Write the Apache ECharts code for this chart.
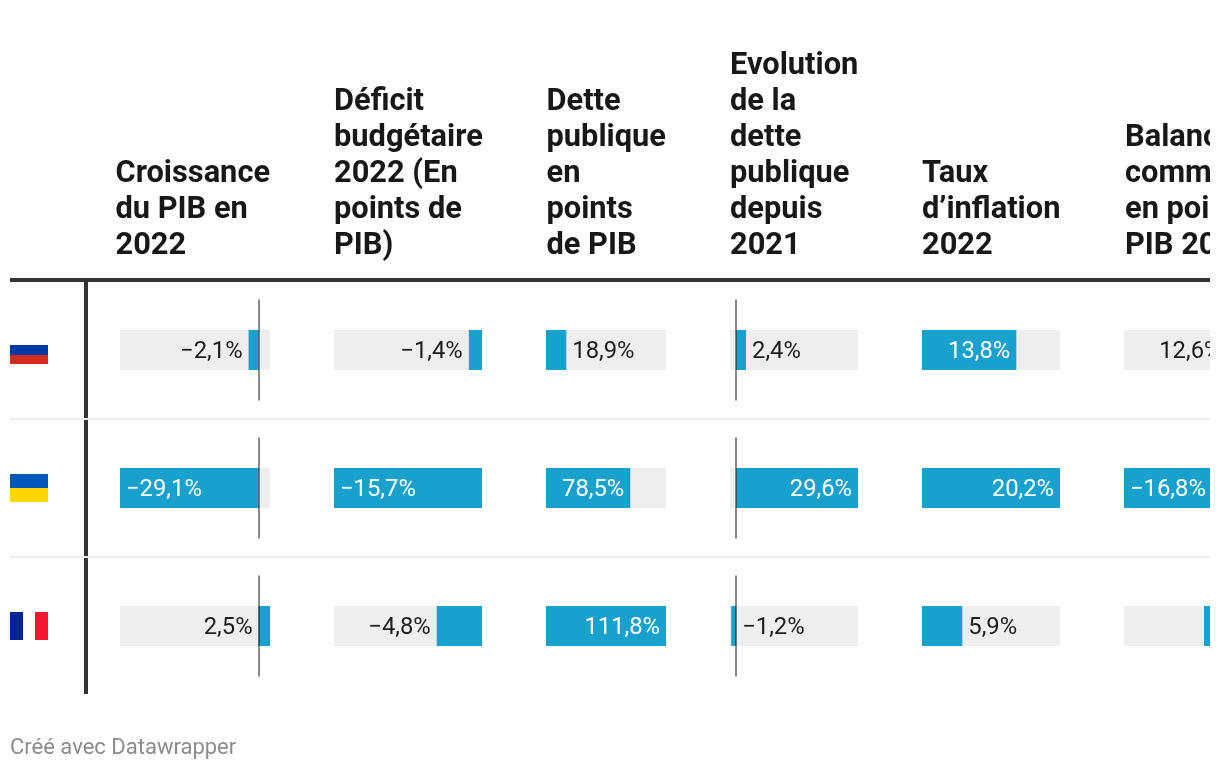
<!DOCTYPE html>
<html><head><meta charset="utf-8">
<style>html,body{margin:0;padding:0;background:#fff;overflow:hidden}#w{width:1210px;height:770px;overflow:hidden}#c{width:1320px;height:770px}</style>
<script src="https://cdn.jsdelivr.net/npm/echarts@6/dist/echarts.min.js"></script>
</head><body><div id="w"><div id="c"></div></div>
<script>
const countries = ['Russie', 'Ukraine', 'France'];
const croissance = [-2.1, -29.1, 2.5];
const deficit = [-1.4, -15.7, -4.8];
const dette = [18.9, 78.5, 111.8];
const evolution = [2.4, 29.6, -1.2];
const inflation = [13.8, 20.2, 5.9];
const balance = [12.6, -16.8, -3.8];
const headers = [
  'Croissance\ndu PIB en\n2022',
  'Déficit\nbudgétaire\n2022 (En\npoints de\nPIB)',
  'Dette\npublique\nen\npoints\nde PIB',
  'Evolution\nde la\ndette\npublique\ndepuis\n2021',
  'Taux\nd’inflation\n2022',
  'Balance\ncommerciale\nen points de\nPIB 2022'
];
const footer = 'Créé avec Datawrapper';

const columns = [croissance, deficit, dette, evolution, inflation, balance];
const colLeft = [120, 334, 546, 730, 922, 1124];
const colWidth = [150, 148, 120, 128, 138, 181];
const axisMin = [-29.1, -15.7, 0, -1.5, 0, -16.8];
const axisMax = [2.4, 0, 111.8, 29.6, 20.2, 12.6];
const headLeft = [115.5, 334, 546.5, 730, 922, 1125];
const rowTop = [300, 438, 576];
const FONT = 'Roboto, sans-serif';
const BLUE = '#18a1cd', GREY = '#eeeeee', INK = '#1d1d1d';

function fmt(v) { return (v < 0 ? '−' : '') + Math.abs(v).toFixed(1).replace('.', ',') + '%'; }

// Datawrapper-style label placement: outside the bar when there is room, otherwise inside it.
function place(v, min, max) {
  const span = max - min, out = v > 0 ? Math.max(0, max - v) / span : (v - min) / span, back = v > 0 ? -min / span : max / span;
  const L = 'left', R = 'right';
  if (out >= 0.45) return { position: v > 0 ? R : L, color: INK };
  if (back >= 0.45) return { position: v > 0 ? L : R, color: INK };
  return { position: v > 0 ? 'insideRight' : 'insideLeft', color: '#fff' };
}

const grid = [], xAxis = [], yAxis = [], series = [], title = [];
columns.forEach((vals, c) => {
  const min = axisMin[c], max = axisMax[c];
  const crosses = min < 0 && max > 0;
  title.push({
    text: headers[c], left: headLeft[c], bottom: 506, padding: 0,
    textStyle: { fontFamily: FONT, fontWeight: 700, fontSize: 30.8, lineHeight: 36, color: '#181818' }
  });
  vals.forEach((v, r) => {
    const i = grid.length;
    grid.push({ left: colLeft[c], top: rowTop[r], width: colWidth[c], height: 100 });
    xAxis.push({ type: 'value', gridIndex: i, min, max, show: false });
    yAxis.push({
      type: 'category', gridIndex: i, data: [countries[r]], z: 10,
      axisLabel: { show: false }, axisTick: { show: false }, splitLine: { show: false },
      axisLine: { show: crosses, onZero: true, lineStyle: { color: 'rgba(0,0,0,0.62)', width: 1.5 } }
    });
    const hideLabel = vals === balance && r === 2;
    const p = place(v, min, max);
    series.push({
      type: 'bar', xAxisIndex: i, yAxisIndex: i, barWidth: 40, silent: true, animation: false,
      showBackground: true, backgroundStyle: { color: GREY },
      itemStyle: { color: BLUE }, data: [v],
      label: {
        show: !hideLabel, position: p.position, distance: 6, offset: [0, 2], color: p.color,
        fontFamily: FONT, fontSize: 23.8, formatter: () => fmt(v)
      }
    });
  });
});
title.push({ text: footer, left: 10, top: 736, padding: 0, textStyle: { fontFamily: FONT, fontWeight: 400, fontSize: 22, lineHeight: 24, color: '#8c8c8c' } });

const rect = (x, y, width, height, fill, z) => ({ type: 'rect', silent: true, z: z || 1, shape: { x, y, width, height }, style: { fill } });
const graphic = [
  rect(10, 278, 1200, 4, '#333333', 3),
  rect(84, 280, 4, 414, '#333333', 3),
  rect(10, 418, 1200, 2, '#ececec', 4),
  rect(10, 556, 1200, 2, '#ececec', 4),
  rect(10, 345, 38, 10, '#0039a6'),
  rect(10, 355, 38, 9, '#d52b1e'),
  rect(10, 474, 38, 14, '#0057b7'),
  rect(10, 488, 38, 14, '#ffd700'),
  rect(10, 612, 13, 28, '#002395'),
  rect(35, 612, 13, 28, '#f31830')
];

const chart = echarts.init(document.getElementById('c'), null, { renderer: 'canvas' });
chart.setOption({ animation: false, backgroundColor: '#fff', title, grid, xAxis, yAxis, series, graphic });
</script></body></html>
